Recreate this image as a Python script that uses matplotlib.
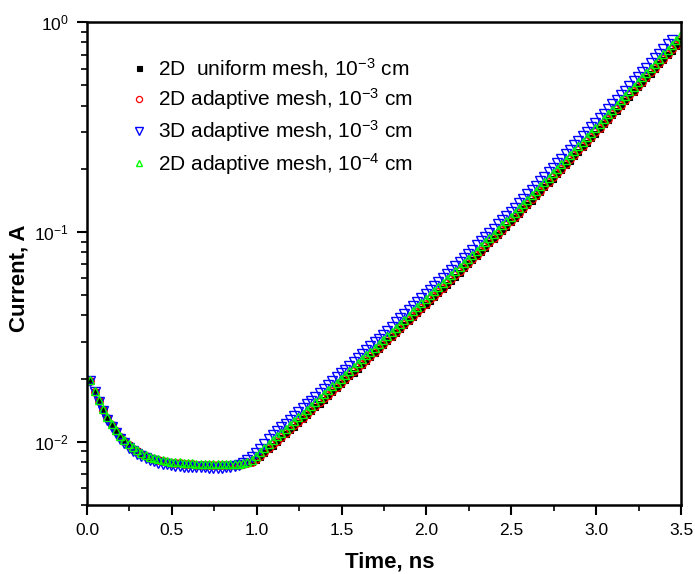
import numpy as np
import matplotlib
matplotlib.use("Agg")
import matplotlib.pyplot as plt
from matplotlib.ticker import LogLocator, MultipleLocator, NullFormatter, FormatStrFormatter

# =========================
# 설정
# =========================
plt.rcParams["font.family"] = ["Liberation Sans", "DejaVu Sans"]
plt.rcParams["mathtext.default"] = "regular"

# time grid (ns), 0.025 ns step starting at 0.02
time_ns = np.round(0.02 + 0.025 * np.arange(140), 3)

# log10(current, A)
uniform_2d = [
    -1.711, -1.761, -1.807, -1.849, -1.887, -1.920, -1.949, -1.975, -1.997, -2.016,
    -2.032, -2.046, -2.057, -2.067, -2.075, -2.081, -2.087, -2.092, -2.096, -2.099,
    -2.101, -2.103, -2.106, -2.107, -2.108, -2.109, -2.110, -2.110, -2.111, -2.111,
    -2.111, -2.112, -2.112, -2.112, -2.111, -2.110, -2.107, -2.102, -2.097, -2.086,
    -2.071, -2.054, -2.036, -2.018, -2.000, -1.982, -1.964, -1.946, -1.928, -1.910,
    -1.892, -1.873, -1.855, -1.836, -1.818, -1.799, -1.781, -1.762, -1.744, -1.725,
    -1.707, -1.688, -1.670, -1.651, -1.633, -1.614, -1.596, -1.577, -1.559, -1.540,
    -1.521, -1.502, -1.482, -1.463, -1.444, -1.425, -1.405, -1.386, -1.367, -1.348,
    -1.328, -1.309, -1.290, -1.271, -1.251, -1.232, -1.213, -1.194, -1.174, -1.155,
    -1.135, -1.115, -1.095, -1.075, -1.055, -1.035, -1.015, -0.995, -0.975, -0.955,
    -0.935, -0.914, -0.893, -0.872, -0.851, -0.830, -0.809, -0.788, -0.767, -0.746,
    -0.725, -0.704, -0.682, -0.661, -0.639, -0.618, -0.596, -0.575, -0.553, -0.532,
    -0.510, -0.488, -0.466, -0.444, -0.422, -0.400, -0.378, -0.356, -0.334, -0.312,
    -0.290, -0.268, -0.246, -0.224, -0.202, -0.180, -0.158, -0.136, -0.114, -0.092,
]
adaptive_2d = [
    -1.711, -1.761, -1.807, -1.849, -1.887, -1.920, -1.949, -1.975, -1.997, -2.016,
    -2.032, -2.046, -2.057, -2.067, -2.075, -2.081, -2.087, -2.092, -2.096, -2.099,
    -2.101, -2.103, -2.106, -2.107, -2.108, -2.109, -2.110, -2.110, -2.111, -2.111,
    -2.111, -2.112, -2.112, -2.112, -2.111, -2.110, -2.107, -2.102, -2.095, -2.082,
    -2.066, -2.048, -2.030, -2.012, -1.994, -1.976, -1.958, -1.940, -1.922, -1.904,
    -1.886, -1.867, -1.849, -1.830, -1.812, -1.793, -1.775, -1.756, -1.738, -1.719,
    -1.701, -1.682, -1.664, -1.645, -1.627, -1.608, -1.590, -1.571, -1.553, -1.534,
    -1.515, -1.496, -1.476, -1.457, -1.438, -1.419, -1.399, -1.380, -1.361, -1.342,
    -1.322, -1.303, -1.284, -1.265, -1.245, -1.226, -1.207, -1.188, -1.168, -1.149,
    -1.129, -1.109, -1.089, -1.069, -1.049, -1.029, -1.009, -0.989, -0.969, -0.949,
    -0.929, -0.908, -0.887, -0.866, -0.845, -0.824, -0.803, -0.782, -0.761, -0.740,
    -0.719, -0.698, -0.676, -0.655, -0.633, -0.612, -0.590, -0.569, -0.547, -0.526,
    -0.504, -0.482, -0.460, -0.438, -0.416, -0.394, -0.372, -0.350, -0.328, -0.306,
    -0.284, -0.262, -0.240, -0.218, -0.196, -0.174, -0.152, -0.130, -0.108, -0.086,
]
adaptive_3d = [
    -1.711, -1.763, -1.811, -1.855, -1.895, -1.929, -1.959, -1.986, -2.008, -2.028,
    -2.044, -2.058, -2.069, -2.079, -2.087, -2.093, -2.099, -2.104, -2.108, -2.111,
    -2.113, -2.115, -2.118, -2.119, -2.120, -2.121, -2.122, -2.122, -2.123, -2.123,
    -2.123, -2.123, -2.122, -2.120, -2.117, -2.112, -2.102, -2.089, -2.072, -2.053,
    -2.032, -2.010, -1.988, -1.967, -1.949, -1.931, -1.913, -1.895, -1.877, -1.859,
    -1.841, -1.822, -1.804, -1.785, -1.767, -1.748, -1.730, -1.711, -1.693, -1.674,
    -1.656, -1.637, -1.619, -1.600, -1.582, -1.563, -1.545, -1.526, -1.508, -1.489,
    -1.470, -1.451, -1.431, -1.412, -1.393, -1.374, -1.354, -1.335, -1.316, -1.297,
    -1.277, -1.258, -1.239, -1.220, -1.200, -1.181, -1.162, -1.143, -1.123, -1.104,
    -1.084, -1.064, -1.044, -1.024, -1.004, -0.984, -0.964, -0.944, -0.924, -0.904,
    -0.884, -0.863, -0.842, -0.821, -0.800, -0.779, -0.758, -0.737, -0.716, -0.695,
    -0.674, -0.653, -0.631, -0.610, -0.588, -0.567, -0.545, -0.524, -0.502, -0.481,
    -0.459, -0.437, -0.415, -0.393, -0.371, -0.349, -0.327, -0.305, -0.283, -0.261,
    -0.239, -0.217, -0.195, -0.173, -0.151, -0.129, -0.107, -0.085,
]
adaptive_2d_fine = [
    -1.706, -1.756, -1.802, -1.844, -1.882, -1.915, -1.944, -1.970, -1.992, -2.011,
    -2.027, -2.041, -2.052, -2.062, -2.070, -2.076, -2.082, -2.087, -2.091, -2.094,
    -2.096, -2.098, -2.101, -2.102, -2.103, -2.104, -2.105, -2.105, -2.106, -2.106,
    -2.106, -2.107, -2.107, -2.107, -2.106, -2.104, -2.100, -2.094, -2.085, -2.069,
    -2.050, -2.030, -2.010, -1.992, -1.974, -1.956, -1.938, -1.920, -1.902, -1.884,
    -1.866, -1.847, -1.829, -1.810, -1.792, -1.773, -1.755, -1.736, -1.718, -1.699,
    -1.681, -1.662, -1.644, -1.625, -1.607, -1.588, -1.570, -1.551, -1.533, -1.514,
    -1.495, -1.476, -1.456, -1.437, -1.418, -1.399, -1.379, -1.360, -1.341, -1.322,
    -1.302, -1.283, -1.264, -1.245, -1.225, -1.206, -1.187, -1.168, -1.148, -1.129,
    -1.109, -1.089, -1.069, -1.049, -1.029, -1.009, -0.989, -0.969, -0.949, -0.929,
    -0.909, -0.888, -0.867, -0.846, -0.825, -0.804, -0.783, -0.762, -0.741, -0.720,
    -0.699, -0.678, -0.656, -0.635, -0.613, -0.592, -0.570, -0.549, -0.527, -0.506,
    -0.484, -0.462, -0.440, -0.418, -0.396, -0.374, -0.352, -0.330, -0.308, -0.286,
    -0.264, -0.242, -0.220, -0.198, -0.176, -0.154, -0.132, -0.110, -0.088, -0.066,
]

labels = [
    "2D  uniform mesh, $10^{-3}$ cm",
    "2D adaptive mesh, $10^{-3}$ cm",
    "3D adaptive mesh, $10^{-3}$ cm",
    "2D adaptive mesh, $10^{-4}$ cm",
]

# =========================
# 그림
# =========================
fig = plt.figure(figsize=(6.95, 5.74), dpi=100)
ax = fig.add_axes([0.1252, 0.1202, 0.8548, 0.8415])

series = [
    (uniform_2d, dict(marker="s", ms=4.5, mfc="black", mec="black", mew=0.8)),
    (adaptive_2d, dict(marker="o", ms=5.5, mfc="none", mec="red", mew=0.9)),
    (adaptive_3d, dict(marker="v", ms=7, mfc="none", mec="blue", mew=1.0)),
    (adaptive_2d_fine, dict(marker="^", ms=6, mfc="none", mec="#00ff00", mew=1.0)),
]
for (vals, style), lab in zip(series, labels):
    cur = 10 ** np.array(vals)
    ax.plot(time_ns[:len(cur)], cur, ls="none", label=lab, **style)

ax.set_yscale("log")
ax.set_xlim(0, 3.5)
ax.set_ylim(5e-3, 1)

ax.xaxis.set_major_locator(MultipleLocator(0.5))
ax.xaxis.set_minor_locator(MultipleLocator(0.25))
ax.xaxis.set_major_formatter(FormatStrFormatter("%.1f"))
ax.yaxis.set_major_locator(LogLocator(base=10, numticks=10))
ax.yaxis.set_minor_locator(LogLocator(base=10, subs=np.arange(2, 10), numticks=20))
ax.yaxis.set_minor_formatter(NullFormatter())

ax.tick_params(which="major", direction="out", length=7, width=1.5, labelsize=12.5,
               top=False, right=False, pad=6)
ax.tick_params(which="minor", direction="out", length=4, width=1.2,
               top=False, right=False)
for sp in ax.spines.values():
    sp.set_linewidth(1.8)

ax.set_xlabel("Time, ns", fontsize=16, fontweight="bold")
ax.set_ylabel("Current, A", fontsize=16, fontweight="bold")
ax.xaxis.set_label_coords(0.51, -0.097)
ax.yaxis.set_label_coords(-0.096, 0.47)

leg = ax.legend(loc="upper left", bbox_to_anchor=(0.035, 0.968), frameon=False,
                fontsize=15, handletextpad=0.3, labelspacing=0.3,
                handlelength=1.2, markerscale=0.8)

plt.savefig("out.png", dpi=100)
plt.close()
